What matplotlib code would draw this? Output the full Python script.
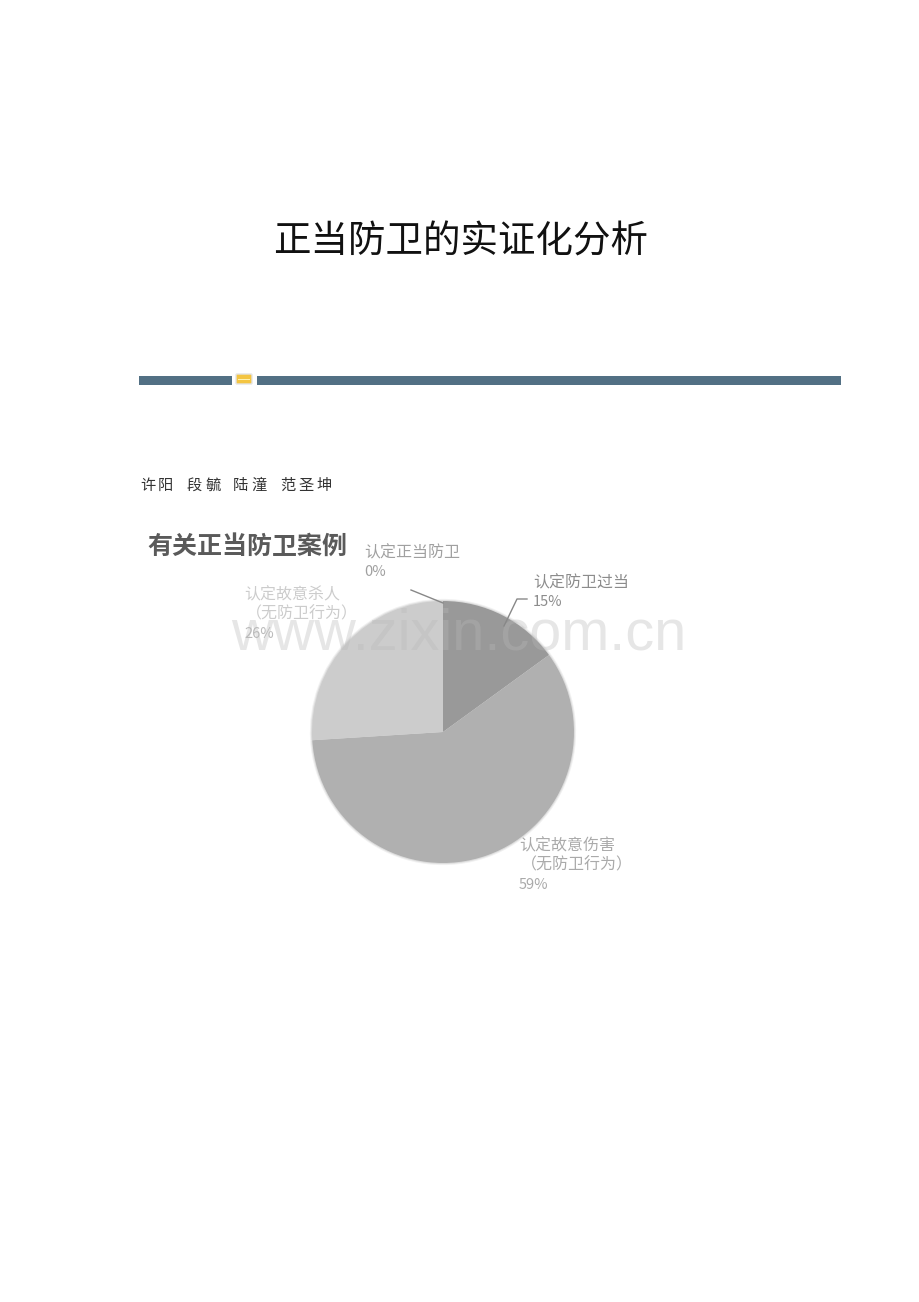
import matplotlib
matplotlib.use('Agg')
import matplotlib.pyplot as plt
from matplotlib.patches import Rectangle, FancyBboxPatch

plt.rcParams['font.family'] = ['Noto Sans CJK SC', 'DejaVu Sans']

doc_title = '正当防卫的实证化分析'
authors = ['许阳', '段毓', '陆潼', '范圣坤']
author_x = [140, 187, 233, 280]
chart_title = '有关正当防卫案例'
watermark = 'www.zixin.com.cn'

# clockwise from 12 o'clock
categories = ['认定防卫过当', '认定故意伤害\n（无防卫行为）', '认定故意杀人\n（无防卫行为）', '认定正当防卫']
shares = [15, 59, 26, 0]
pie_colors = ['#999999', '#b0b0b0', '#cccccc', '#e0e0e0']

W, H = 920, 1302
fig = plt.figure(figsize=(W / 100, H / 100), dpi=100, facecolor='white')


def px_axes(left, top, width, height):
    return fig.add_axes([left / W, 1 - (top + height) / H, width / W, height / H])


# pie first, page overlay on top of it
cx, cy, r = 443, 732, 131
ax_pie = px_axes(cx - r - 8, cy - r - 8, 2 * r + 16, 2 * r + 16)
lim = (r + 8) / r
# soft edge, the scan blurs the outline
ax_pie.pie(shares, radius=1.016, colors=['#f1f1f1'] * 4, startangle=90, counterclock=False)
ax_pie.pie(shares, radius=1.008, colors=['#dddddd'] * 4, startangle=90, counterclock=False)
ax_pie.pie(shares, radius=1.0, colors=pie_colors, startangle=90, counterclock=False)
ax_pie.set_xlim(-lim, lim)
ax_pie.set_ylim(-lim, lim)

page = fig.add_axes([0, 0, 1, 1])
page.set_xlim(0, W)
page.set_ylim(H, 0)
page.axis('off')
page.patch.set_alpha(0)

page.text(461, 242, doc_title, ha='center', va='center', fontsize=27, color='#111111')

# divider bar
page.add_patch(Rectangle((139, 375.5), 93, 9, color='#527084', lw=0))
page.add_patch(Rectangle((257, 375.5), 584, 9, color='#527084', lw=0))
page.add_patch(FancyBboxPatch((237, 375), 14, 8, boxstyle='round,pad=1', fc='#f4c542', ec='#e4e4e4', lw=1))
page.add_patch(Rectangle((238, 378.5), 12, 1.5, color='#fff2b0', lw=0))

for name, x in zip(authors, author_x):
    for i, ch in enumerate(name):
        page.text(x + i * 18, 490, ch, ha='left', va='baseline', fontsize=11, color='#333333')

page.text(147, 547, chart_title, ha='left', va='center', fontsize=18, fontweight='bold', color='#5a5a5a')

# data labels
page.text(364, 553, categories[3], ha='left', va='center', fontsize=11.5, color='#a0a0a0')
page.text(364, 572, f'{shares[3]}%', ha='left', va='center', fontsize=10.5, color='#a0a0a0')
page.plot([411, 443], [590, 603], color='#888888', lw=1)

page.text(533, 583, categories[0], ha='left', va='center', fontsize=11.5, color='#8c8c8c')
page.text(533, 602, f'{shares[0]}%', ha='left', va='center', fontsize=10.5, color='#8c8c8c')
page.plot([504, 517, 527], [626, 599, 599], color='#888888', lw=1)

page.text(244, 595, '认定故意杀人', ha='left', va='center', fontsize=11.5, color='#cccccc')
page.text(246, 614, '（无防卫行为）', ha='left', va='center', fontsize=11.5, color='#cccccc')
page.text(244, 634, f'{shares[2]}%', ha='left', va='center', fontsize=10.5, color='#bbbbbb')

page.text(519, 846, '认定故意伤害', ha='left', va='center', fontsize=11.5, color='#aaaaaa')
page.text(521, 865, '（无防卫行为）', ha='left', va='center', fontsize=11.5, color='#aaaaaa')
page.text(519, 885, f'{shares[1]}%', ha='left', va='center', fontsize=10.5, color='#aaaaaa')

page.text(459, 635, watermark, ha='center', va='center', fontsize=41.5,
          family='Liberation Sans', color='#b8b8b8', alpha=0.35)

fig.savefig('out.png', dpi=100, facecolor='white')
